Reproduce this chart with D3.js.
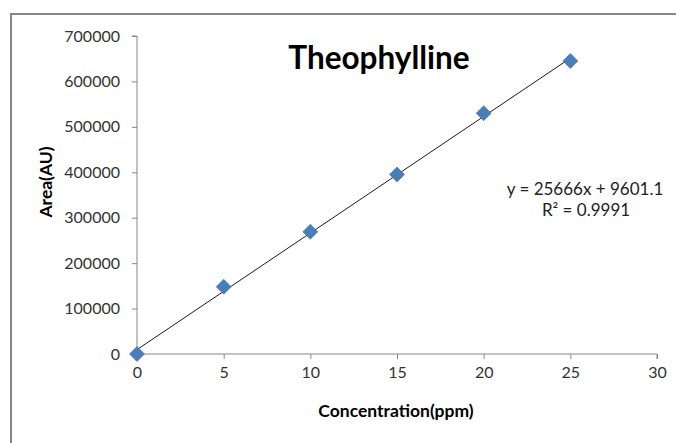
<!DOCTYPE html>
<html>
<head>
<meta charset="utf-8">
<script src="https://cdn.jsdelivr.net/npm/d3@7"></script>
<style>
  html, body { margin: 0; padding: 0; background: #fff; }
  svg { display: block; }
  text { font-family: Lato, "Open Sans", sans-serif; }
</style>
</head>
<body>
<script>
// Data
const concentration = [0, 5, 10, 15, 20, 25];
const area = [0, 148000, 269000, 395000, 530000, 645000];
const xTicks = [0, 5, 10, 15, 20, 25, 30];
const yTicks = [0, 100000, 200000, 300000, 400000, 500000, 600000, 700000];
const trendSlope = 25666;
const trendIntercept = 9601.1;
const trendRange = [0, 25];
const titleText = "Theophylline";
const xTitle = "Concentration(ppm)";
const yTitle = "Area(AU)";
const eqLine1 = "y = 25666x + 9601.1";
const eqLine2 = "R² = 0.9991";

const W = 676, H = 443;
const svg = d3.select("body").append("svg").attr("width", W).attr("height", H);

// outer chart border
svg.append("rect").attr("x", 11).attr("y", 14).attr("width", W + 10).attr("height", H + 10)
  .attr("fill", "#fff").attr("stroke", "#868686").attr("stroke-width", 2);

const x = d3.scaleLinear().domain([0, 30]).range([137, 657]);
const y = d3.scaleLinear().domain([0, 700000]).range([354, 36]);

const axisColor = "#868686";
const labelColor = "#333";

// y axis
const gy = svg.append("g").attr("transform", "translate(137,0)")
  .call(d3.axisLeft(y).tickValues(yTicks).tickSize(5).tickPadding(12).tickFormat(d3.format("d")));
gy.select(".domain").attr("stroke", axisColor).attr("d", `M-5,${y(700000)}H0V${y(0)}`);
gy.selectAll(".tick line").attr("stroke", axisColor);
gy.selectAll(".tick text").attr("fill", labelColor).style("font-size", "16px").style("font-family", "Lato, sans-serif");

// x axis
const gx = svg.append("g").attr("transform", "translate(0,354)")
  .call(d3.axisBottom(x).tickValues(xTicks).tickSize(5).tickPadding(8).tickFormat(d3.format("d")));
gx.select(".domain").attr("stroke", axisColor).attr("d", `M${x(0)},0H${x(30)}V5`);
gx.selectAll(".tick line").attr("stroke", axisColor);
gx.selectAll(".tick text").attr("fill", labelColor).style("font-size", "16px").style("font-family", "Lato, sans-serif");

// trendline
svg.append("line")
  .attr("x1", x(trendRange[0])).attr("y1", y(trendSlope * trendRange[0] + trendIntercept))
  .attr("x2", x(trendRange[1])).attr("y2", y(trendSlope * trendRange[1] + trendIntercept))
  .attr("stroke", "#000").attr("stroke-width", 0.9);

// markers
svg.append("g").selectAll("path").data(concentration).join("path")
  .attr("transform", (d, i) => `translate(${x(d)},${y(area[i])})`)
  .attr("d", "M0,-7.5L7.5,0L0,7.5L-7.5,0Z")
  .attr("fill", "#4a7ebb").attr("stroke", "#3f6fa8").attr("stroke-width", 0.6);

// title
svg.append("text").attr("x", 379).attr("y", 69).attr("text-anchor", "middle")
  .style("font-size", "31.5px").style("font-weight", "bold").attr("fill", "#000").text(titleText);

// axis titles
svg.append("text").attr("x", 396).attr("y", 417).attr("text-anchor", "middle")
  .style("font-size", "17.5px").style("font-weight", "bold").attr("fill", "#000").text(xTitle);
svg.append("text").attr("transform", "translate(52,182) rotate(-90)").attr("text-anchor", "middle")
  .style("font-size", "17.5px").style("font-weight", "bold").attr("fill", "#000").text(yTitle);

// equation
svg.append("text").attr("x", 585).attr("y", 195).attr("text-anchor", "middle")
  .style("font-size", "17px").attr("fill", "#222").text(eqLine1);
svg.append("text").attr("x", 586).attr("y", 216).attr("text-anchor", "middle")
  .style("font-size", "17px").attr("fill", "#222").text(eqLine2);
</script>
</body>
</html>
